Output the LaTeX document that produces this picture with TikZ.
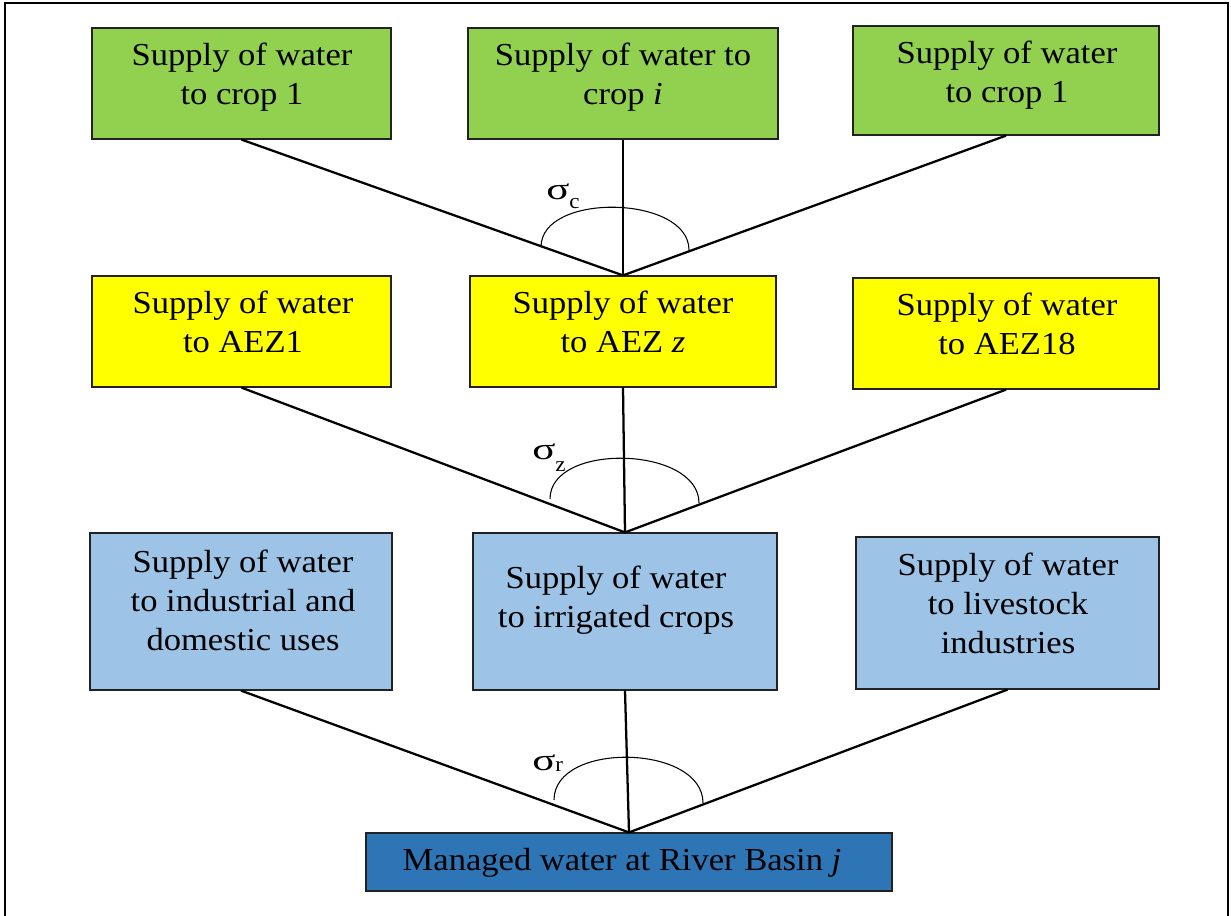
\documentclass[tikz,border=0pt]{standalone}
\usepackage{fontspec}
\setmainfont{Liberation Serif}[FakeStretch=1.08]
\usetikzlibrary{fit}
\definecolor{cgreen}{HTML}{92D050}
\definecolor{cyellow}{HTML}{FFFF00}
\definecolor{clblue}{HTML}{9DC3E6}
\definecolor{cdblue}{HTML}{2E75B6}
\definecolor{cedge}{HTML}{222222}
\tikzset{
  box/.style={draw=cedge, line width=0.9pt, inner sep=0pt},
  txt/.style={align=center, anchor=north, inner sep=0pt, font=\fontsize{24}{29}\selectfont},
  conn/.style={draw=black, line width=1.7pt},
  arcline/.style={draw=black, line width=0.8pt},
  frameline/.style={draw=black, line width=2.2pt},
  sig/.style={anchor=base west, inner sep=0pt, font=\fontsize{23}{23}\selectfont},
}
\newcommand{\subfont}{\fontsize{16}{16}\selectfont}
\newcommand{\wsig}{\scalebox{1.3}[1]{σ}}
\begin{document}
\begin{tikzpicture}[x=0.75pt,y=-0.75pt]
\useasboundingbox (0,0) rectangle (1231,915);
% outer frame
\coordinate (fa) at (5,916);
\coordinate (fb) at (5,3);
\coordinate (fc) at (1228,3);
\coordinate (fd) at (1228,916);
\draw[frameline] (fa) -- (fb) -- (fc) -- (fd);

% row 1 (green)
\node[box, fill=cgreen, fit={(92,28) (391,139)}] (g1) {};
\node[box, fill=cgreen, fit={(468,28) (778,139)}] (g2) {};
\node[box, fill=cgreen, fit={(853,26) (1159,135)}] (g3) {};
% row 2 (yellow)
\node[box, fill=cyellow, fit={(92,276) (391,387)}] (y1) {};
\node[box, fill=cyellow, fit={(470,276) (776,387)}] (y2) {};
\node[box, fill=cyellow, fit={(853,278) (1159,389)}] (y3) {};
% row 3 (light blue)
\node[box, fill=clblue, fit={(90,533) (392,690)}] (b1) {};
\node[box, fill=clblue, fit={(473,533) (777,690)}] (b2) {};
\node[box, fill=clblue, fit={(856,537) (1159,689)}] (b3) {};
% bottom
\node[box, fill=cdblue, fit={(366,833) (892,891)}] (m) {};

% texts
\node[txt] (tg1) at (242,43) {Supply of water\\to crop 1};
\node[txt] (tg2) at (623,43) {Supply of water to\\crop \textit{i}};
\node[txt] (tg3) at (1007,41) {Supply of water\\to crop 1};
\node[txt] (ty1) at (243,291) {Supply of water\\to AEZ1};
\node[txt] (ty2) at (623,291) {Supply of water\\to AEZ \textit{z}};
\node[txt] (ty3) at (1007,293) {Supply of water\\to AEZ18};
\node[txt] (tb1) at (243,550) {Supply of water\\to industrial and\\domestic uses};
\node[txt] (tb2) at (616,566) {Supply of water\\to irrigated crops};
\node[txt] (tb3) at (1008,553) {Supply of water\\to livestock\\industries};
\node[txt] (tm) at (622,848) {Managed water at River Basin \textit{j}};

% connectors
\draw[conn] (g1.south) -- (y2.north);
\draw[conn] (g2.south) -- (y2.north);
\draw[conn] (g3.south) -- (y2.north);
\draw[conn] (y1.south) -- (b2.north);
\draw[conn] (y2.south) -- (b2.north);
\draw[conn] (y3.south) -- (b2.north);
\draw[conn] (b1.south) -- (m.north);
\draw[conn] (b2.south) -- (m.north);
\draw[conn] (b3.south) -- (m.north);

% angle arcs
\draw[arcline] (541,247) .. controls (541,192) and (689,195) .. (689,250);
\draw[arcline] (550,499) .. controls (550,442) and (699,446) .. (699,503);
\draw[arcline] (554,800) .. controls (554,741) and (703,744) .. (703,803);

% sigma labels
\node[sig] (sc) at (546,199) {\wsig\raisebox{-6.75pt}{\subfont c}};
\node[sig] (sz) at (532,459) {\wsig\raisebox{-9.5pt}{\subfont z}};
\node[sig] (sr) at (532,770) {\wsig\raisebox{-0.75pt}{\subfont r}};
\end{tikzpicture}
\end{document}
